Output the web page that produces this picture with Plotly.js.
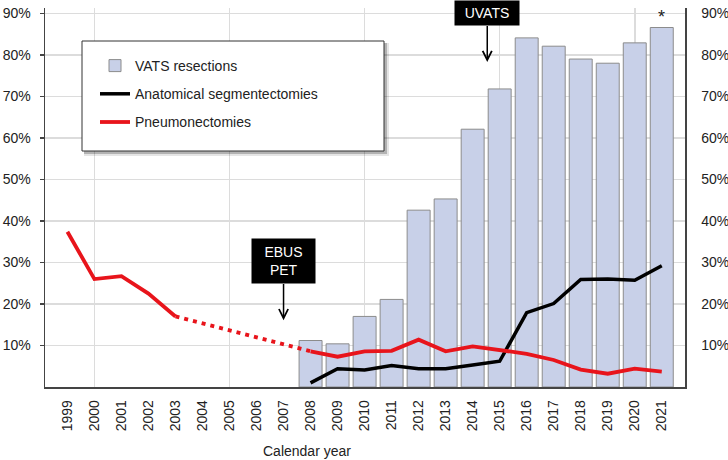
<!DOCTYPE html>
<html>
<head>
<meta charset="utf-8">
<script src="https://cdn.plot.ly/plotly-3.0.1.min.js"></script>
<style>
html,body{margin:0;padding:0;background:#fff;}
#chart{width:728px;height:460px;}
</style>
</head>
<body>
<div id="chart"></div>
<script>
// ---- data ----
var years = [1999,2000,2001,2002,2003,2004,2005,2006,2007,2008,2009,2010,2011,2012,2013,2014,2015,2016,2017,2018,2019,2020,2021];
var yearLabels = ["1999","2000","2001","2002","2003","2004","2005","2006","2007","2008","2009","2010","2011","2012","2013","2014","2015","2016","2017","2018","2019","2020","2021"];
var vatsYears = [2008,2009,2010,2011,2012,2013,2014,2015,2016,2017,2018,2019,2020,2021];
var vatsResections = [11.2,10.4,17.0,21.1,42.6,45.3,62.1,71.8,84.1,82.1,79.0,78.0,82.9,86.6];
var segmentectomies = [1.0,4.4,4.1,5.2,4.4,4.4,5.3,6.2,17.9,20.1,25.9,26.0,25.7,29.2];
var pneumonectomies = [37.4,26.0,26.7,22.5,17.0,null,null,null,null,8.6,7.3,8.6,8.7,11.4,8.6,9.8,8.8,8.0,6.5,4.2,3.2,4.4,3.7];
var gapYears = [2003,2008];
var gapValues = [pneumonectomies[4], pneumonectomies[9]];
var yTickVals = [10,20,30,40,50,60,70,80,90];
var yTickText = ["10%","20%","30%","40%","50%","60%","70%","80%","90%"];
var gridYears = [2000,2005,2010,2015,2020];

var FONT = "Liberation Sans, Arial, Helvetica, sans-serif";
var xr = [1998.17, 2021.86];
var yr = [0, 91.3];

var traces = [
  {type:'bar', x: vatsYears, y: vatsResections, name:'VATS resections', width:0.85,
   marker:{color:'#c8d0e8', line:{color:'#8c8c8c', width:1}}, legendgroup:'a'},
  {type:'scatter', mode:'lines', x: vatsYears, y: segmentectomies, name:'Anatomical segmentectomies',
   line:{color:'#000000', width:3.5}, legendgroup:'b'},
  {type:'scatter', mode:'lines', x: years, y: pneumonectomies, name:'Pneumonectomies',
   connectgaps:false, line:{color:'#e8141b', width:3.8}, legendgroup:'c'},
  {type:'scatter', mode:'lines', x: gapYears, y: gapValues, xaxis:'x2', yaxis:'y2', showlegend:false,
   line:{color:'#e8141b', width:3.8, dash:'4px,5px'}, hoverinfo:'skip'}
];

function px(v){ return (v-45)/640; }
function py(v){ return (387-v)/379; }

var axisCol = '#444';
var layout = {
  width:728, height:460,
  margin:{l:45, r:43, t:8, b:73, pad:0},
  paper_bgcolor:'#fff', plot_bgcolor:'#fff',
  font:{family:FONT, size:14, color:'#222'},
  showlegend:true,
  xaxis:{range:xr, tickmode:'array', tickvals: years, ticktext: yearLabels, tickangle:-90,
         showgrid:false, zeroline:false, showline:true, linecolor:axisCol, linewidth:1.5,
         ticks:'', ticklabelstandoff:6, tickfont:{size:14, color:'#222'}},
  xaxis2:{range:xr, overlaying:'x', tickmode:'array', tickvals: gridYears, showticklabels:false,
          showgrid:true, gridcolor:'#dcdcdc', gridwidth:1.5, zeroline:false, showline:false, ticks:''},
  yaxis:{range:yr, tickmode:'array', tickvals: yTickVals, ticktext: yTickText,
         showgrid:true, gridcolor:'#dcdcdc', gridwidth:1.5, zeroline:false,
         showline:true, linecolor:axisCol, linewidth:1.5, ticks:'outside', ticklen:4, tickwidth:1.5,
         tickcolor:axisCol, ticklabelstandoff:6, tickfont:{size:14, color:'#222'}},
  yaxis2:{range:yr, overlaying:'y', side:'right', tickmode:'array', tickvals: yTickVals, ticktext: yTickText,
          showgrid:false, zeroline:false, showline:true, linecolor:axisCol, linewidth:1.5, ticks:'',
          ticklabelstandoff:12, tickfont:{size:14, color:'#222'}},
  legend:{x:px(95), y:py(50), xanchor:'left', yanchor:'top',
          bgcolor:'rgba(0,0,0,0)', borderwidth:0, font:{size:14, color:'#222', family:FONT},
          traceorder:'grouped', tracegroupgap:7},
  shapes:[
    {type:'rect', xref:'paper', yref:'paper', layer:'above',
     x0:px(84), x1:px(389), y0:py(156), y1:py(43),
     fillcolor:'rgba(0,0,0,0.10)', line:{width:0}},
    {type:'rect', xref:'paper', yref:'paper', layer:'above',
     x0:px(84), x1:px(387), y0:py(154), y1:py(43),
     fillcolor:'rgba(0,0,0,0.22)', line:{width:0}},
    {type:'rect', xref:'paper', yref:'paper', layer:'above',
     x0:px(82), x1:px(384), y0:py(151), y1:py(41),
     fillcolor:'#ffffff', line:{color:'#333', width:1}}
  ],
  annotations:[
    {x:2014.54, y:78.3, xref:'x', yref:'y', text:'UVATS', showarrow:true, ax:0, ay:-48.5,
     axref:'pixel', ayref:'pixel', arrowhead:5, arrowsize:1.2, arrowwidth:1.5, arrowcolor:'#000',
     bgcolor:'#000', font:{color:'#fff', size:14, family:FONT}, width:58, height:18, borderpad:3},
    {x:2007.0, y:16.1, xref:'x', yref:'y', text:'EBUS<br>PET', showarrow:true, ax:0, ay:-58.7,
     axref:'pixel', ayref:'pixel', arrowhead:5, arrowsize:1.2, arrowwidth:1.5, arrowcolor:'#000',
     bgcolor:'#000', font:{color:'#fff', size:14, family:FONT}, width:57, height:38, borderpad:3},
    {x:vatsYears[vatsYears.length-1], y:vatsResections[vatsResections.length-1], xref:'x', yref:'y',
     text:'*', showarrow:false, yanchor:'bottom', yshift:-1, font:{size:18, color:'#222', family:FONT}},
    {x:px(307), y:py(451), xref:'paper', yref:'paper', text:'Calendar year',
     showarrow:false, xanchor:'center', yanchor:'middle', font:{size:14, color:'#222', family:FONT}}
  ]
};

Plotly.newPlot('chart', traces, layout, {displayModeBar:false, staticPlot:true});
</script>
</body>
</html>
